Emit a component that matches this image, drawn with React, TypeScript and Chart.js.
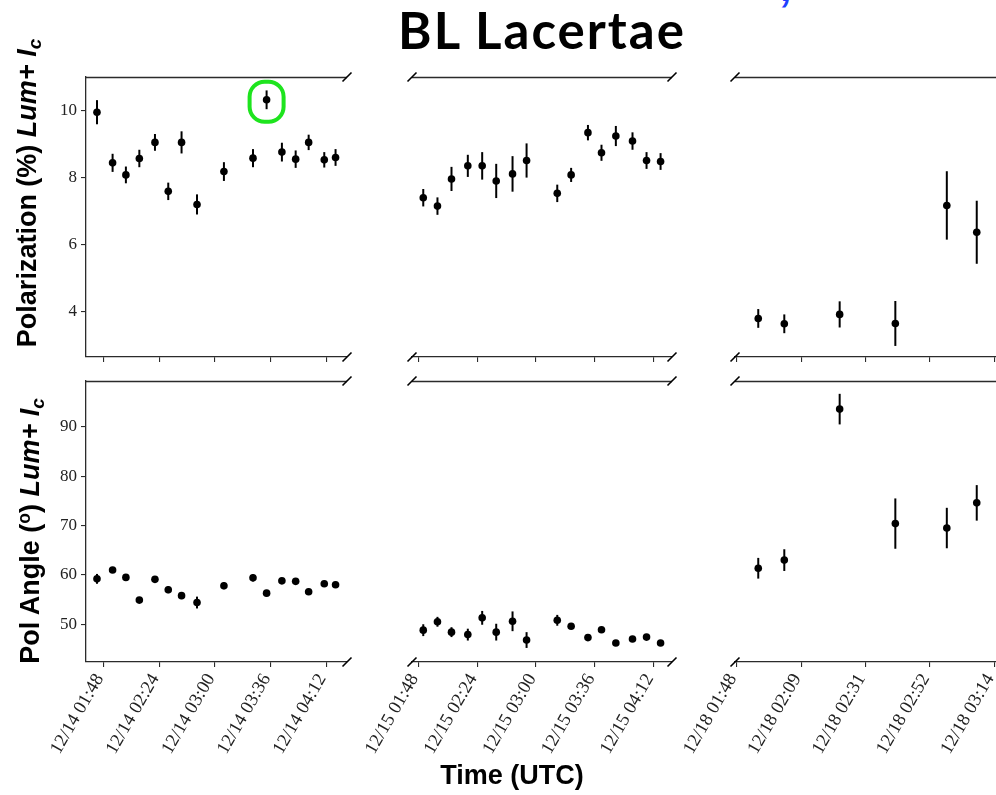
import React, { useEffect, useRef } from 'react';
import { Chart, registerables } from 'chart.js';

Chart.register(...registerables);

// Observation times, minutes after 00:00 UTC
const dec14Times = [103.7, 113.8, 122.4, 131.1, 141.2, 149.8, 158.4, 168.4, 185.8, 204.6, 213.4, 223.3, 232.2, 240.6, 250.7, 258.0];
const dec15Times = [110.9, 119.6, 128.2, 138.2, 147.0, 155.6, 165.6, 174.2, 193.0, 201.5, 211.8, 220.1, 228.9, 239.1, 247.7, 256.3];
const dec18Times = [115.2, 123.9, 142.4, 161.0, 178.2, 188.2];

// Polarization (%)
const dec14Pol = [9.95, 8.44, 8.08, 8.57, 9.05, 7.59, 9.05, 7.2, 8.18, 8.58, 10.32, 8.76, 8.55, 9.05, 8.53, 8.6];
const dec14PolErr = [0.36, 0.27, 0.25, 0.26, 0.25, 0.26, 0.33, 0.3, 0.28, 0.27, 0.28, 0.28, 0.26, 0.23, 0.23, 0.25];
const dec15Pol = [7.4, 7.15, 7.96, 8.35, 8.35, 7.9, 8.11, 8.51, 7.53, 8.08, 9.34, 8.74, 9.24, 9.09, 8.51, 8.48];
const dec15PolErr = [0.26, 0.26, 0.36, 0.33, 0.41, 0.51, 0.53, 0.51, 0.26, 0.21, 0.23, 0.24, 0.3, 0.26, 0.25, 0.25];
const dec18Pol = [3.8, 3.64, 3.92, 3.65, 7.17, 6.37];
const dec18PolErr = [0.28, 0.28, 0.39, 0.67, 1.02, 0.94];

// Polarization angle (deg)
const dec14Ang = [59.2, 61.0, 59.5, 54.9, 59.1, 57.0, 55.8, 54.4, 57.8, 59.4, 56.3, 58.8, 58.7, 56.6, 58.2, 58.0];
const dec14AngErr = [1.0, 0.6, 0.6, 0.6, 0.6, 0.7, 0.7, 1.2, 0.7, 0.7, 0.6, 0.6, 0.6, 0.6, 0.6, 0.6];
const dec15Ang = [48.8, 50.5, 48.4, 47.9, 51.3, 48.4, 50.6, 46.8, 50.8, 49.6, 47.3, 48.9, 46.2, 47.0, 47.4, 46.2];
const dec15AngErr = [1.2, 1.0, 1.0, 1.2, 1.4, 1.7, 2.0, 1.6, 1.1, 0.5, 0.5, 0.5, 0.5, 0.5, 0.5, 0.5];
const dec18Ang = [61.35, 63.0, 93.6, 70.4, 69.5, 74.6];
const dec18AngErr = [2.1, 2.2, 3.1, 5.1, 4.1, 3.6];

// Tick positions (minutes) and labels
const dec14TickValues = [108, 144, 180, 216, 252];
const dec14TickLabels = ['12/14 01:48', '12/14 02:24', '12/14 03:00', '12/14 03:36', '12/14 04:12'];
const dec15TickValues = [108, 144, 180, 216, 252];
const dec15TickLabels = ['12/15 01:48', '12/15 02:24', '12/15 03:00', '12/15 03:36', '12/15 04:12'];
const dec18TickValues = [108, 129.5, 151, 172.5, 194];
const dec18TickLabels = ['12/18 01:48', '12/18 02:09', '12/18 02:31', '12/18 02:52', '12/18 03:14'];
const polTickValues = [4, 6, 8, 10];
const angTickValues = [50, 60, 70, 80, 90];

const highlightedDec14Index = 10;

const PAD = 12;
const PAD_LEFT = 72;
const Y_AXIS_W = 44;
const X_AXIS_LABEL_H = 108;
const X_AXIS_TICK_H = 6;
const SPINE = '#2b2b2b';

type PanelProps = {
  left: number; top: number; width: number; height: number;
  times: number[]; values: number[]; errs: number[];
  xMin: number; xMax: number; yMin: number; yMax: number;
  xTickValues: number[]; xTickLabels: string[]; showXLabels: boolean;
  yTickValues: number[]; showY: boolean;
  breakLeft: boolean; breakRight: boolean; rightSpine: boolean;
  highlight?: number;
};

function Panel(p: PanelProps) {
  const ref = useRef<HTMLCanvasElement>(null);
  const yW = p.showY ? Y_AXIS_W : 0;
  const xH = p.showXLabels ? X_AXIS_LABEL_H : X_AXIS_TICK_H;
  const cw = p.width + yW + PAD_LEFT + PAD;
  const ch = p.height + PAD + xH + 2;

  useEffect(() => {
    const canvas = ref.current!;
    const decor = {
      id: 'panelDecor',
      beforeDatasetsDraw(chart: any) {
        const { ctx } = chart;
        const xs = chart.scales.x;
        const ys = chart.scales.y;
        ctx.save();
        ctx.strokeStyle = '#000';
        ctx.lineWidth = 2;
        p.times.forEach((t, i) => {
          const x = xs.getPixelForValue(t);
          ctx.beginPath();
          ctx.moveTo(x, ys.getPixelForValue(p.values[i] - p.errs[i]));
          ctx.lineTo(x, ys.getPixelForValue(p.values[i] + p.errs[i]));
          ctx.stroke();
        });
        ctx.restore();
      },
      afterDraw(chart: any) {
        const { ctx, chartArea: a } = chart;
        ctx.save();
        ctx.strokeStyle = SPINE;
        ctx.lineWidth = 1.3;
        ctx.beginPath();
        ctx.moveTo(a.left, a.top + 0.5);
        ctx.lineTo(a.right, a.top + 0.5);
        ctx.stroke();
        if (p.rightSpine) {
          ctx.beginPath();
          ctx.moveTo(a.right, a.top);
          ctx.lineTo(a.right, a.bottom);
          ctx.stroke();
        }
        ctx.strokeStyle = '#000';
        ctx.lineWidth = 1.6;
        const d = 4.5;
        const mark = (x: number, y: number) => {
          ctx.beginPath();
          ctx.moveTo(x - d, y + d);
          ctx.lineTo(x + d, y - d);
          ctx.stroke();
        };
        if (p.breakLeft) { mark(a.left, a.top); mark(a.left, a.bottom); }
        if (p.breakRight) { mark(a.right, a.top); mark(a.right, a.bottom); }
        if (p.highlight !== undefined) {
          const x = chart.scales.x.getPixelForValue(p.times[p.highlight]);
          const y = chart.scales.y.getPixelForValue(p.values[p.highlight]) + 2;
          const w = 34, h = 40, r = 15;
          const x0 = x - w / 2, y0 = y - h / 2;
          ctx.strokeStyle = '#1ee41e';
          ctx.lineWidth = 4;
          ctx.beginPath();
          ctx.moveTo(x0 + r, y0);
          ctx.lineTo(x0 + w - r, y0);
          ctx.arcTo(x0 + w, y0, x0 + w, y0 + r, r);
          ctx.lineTo(x0 + w, y0 + h - r);
          ctx.arcTo(x0 + w, y0 + h, x0 + w - r, y0 + h, r);
          ctx.lineTo(x0 + r, y0 + h);
          ctx.arcTo(x0, y0 + h, x0, y0 + h - r, r);
          ctx.lineTo(x0, y0 + r);
          ctx.arcTo(x0, y0, x0 + r, y0, r);
          ctx.closePath();
          ctx.stroke();
        }
        ctx.restore();
      },
    };

    const chart = new Chart(canvas, {
      type: 'scatter',
      data: {
        datasets: [{
          data: p.times.map((t, i) => ({ x: t, y: p.values[i] })),
          pointRadius: 3.8,
          pointBackgroundColor: '#000',
          pointBorderWidth: 0,
          showLine: false,
        } as any],
      },
      options: {
        animation: false,
        responsive: false,
        maintainAspectRatio: false,
        events: [],
        layout: { padding: { left: PAD_LEFT, right: PAD, top: PAD, bottom: 2 } },
        plugins: { legend: { display: false }, tooltip: { enabled: false } },
        scales: {
          x: {
            type: 'linear',
            min: p.xMin,
            max: p.xMax,
            afterBuildTicks: (s: any) => { s.ticks = p.xTickValues.map((v) => ({ value: v })); },
            afterFit: (s: any) => { s.height = xH; s.paddingLeft = 0; s.paddingRight = 0; },
            grid: { display: true, drawOnChartArea: false, drawTicks: true, tickLength: 5, color: SPINE, tickColor: SPINE, lineWidth: 1.1 },
            border: { display: true, color: SPINE, width: 1.3 },
            ticks: {
              display: p.showXLabels,
              autoSkip: false,
              minRotation: 60,
              maxRotation: 60,
              padding: 3,
              labelOffset: -4,
              color: '#222',
              font: { family: '"Liberation Serif", serif', size: 18.5 },
              callback: (_v: any, i: number) => p.xTickLabels[i],
            },
          },
          y: {
            type: 'linear',
            display: p.showY,
            min: p.yMin,
            max: p.yMax,
            afterBuildTicks: (s: any) => { s.ticks = p.yTickValues.map((v) => ({ value: v })); },
            afterFit: (s: any) => { s.width = yW; s.paddingTop = 0; s.paddingBottom = 0; },
            grid: { display: true, drawOnChartArea: false, drawTicks: true, tickLength: 5, color: SPINE, tickColor: SPINE, lineWidth: 1.1 },
            border: { display: true, color: SPINE, width: 1.3 },
            ticks: {
              padding: 4,
              color: '#222',
              font: { family: '"Liberation Serif", serif', size: 17 },
              callback: (v: any) => String(v),
            },
          },
        },
      } as any,
      plugins: [decor],
    });
    return () => chart.destroy();
  }, []);

  return (
    <canvas
      ref={ref}
      width={cw}
      height={ch}
      style={{ position: 'absolute', left: p.left - PAD_LEFT - yW, top: p.top - PAD, width: cw, height: ch }}
    />
  );
}

const cols = [
  { left: 86, width: 261, xMin: 96.6, xMax: 265.4 },
  { left: 412, width: 260, xMin: 104.0, xMax: 263.3 },
  { left: 735, width: 265, xMin: 107.43, xMax: 195.97 },
];
const rows = [
  { top: 77, height: 280, yMin: 2.65, yMax: 11.0 },
  { top: 381, height: 281, yMin: 42.35, yMax: 99.3 },
];

export default function App() {
  const days = [
    { times: dec14Times, pol: dec14Pol, polErr: dec14PolErr, ang: dec14Ang, angErr: dec14AngErr, tv: dec14TickValues, tl: dec14TickLabels },
    { times: dec15Times, pol: dec15Pol, polErr: dec15PolErr, ang: dec15Ang, angErr: dec15AngErr, tv: dec15TickValues, tl: dec15TickLabels },
    { times: dec18Times, pol: dec18Pol, polErr: dec18PolErr, ang: dec18Ang, angErr: dec18AngErr, tv: dec18TickValues, tl: dec18TickLabels },
  ];
  const panels: React.ReactNode[] = [];
  rows.forEach((r, ri) => {
    cols.forEach((c, ci) => {
      const d = days[ci];
      panels.push(
        <Panel
          key={`${ri}-${ci}`}
          left={c.left} top={r.top} width={c.width} height={r.height}
          times={d.times}
          values={ri === 0 ? d.pol : d.ang}
          errs={ri === 0 ? d.polErr : d.angErr}
          xMin={c.xMin} xMax={c.xMax} yMin={r.yMin} yMax={r.yMax}
          xTickValues={d.tv} xTickLabels={d.tl} showXLabels={ri === 1}
          yTickValues={ri === 0 ? polTickValues : angTickValues} showY={ci === 0}
          breakLeft={ci > 0} breakRight={ci < 2} rightSpine={ci === 2}
          highlight={ri === 0 && ci === 0 ? highlightedDec14Index : undefined}
        />
      );
    });
  });

  const sans = '"Liberation Sans", Arial, sans-serif';
  return (
    <div style={{ position: 'fixed', left: 0, top: 0, width: 996, height: 795, overflow: 'hidden', background: '#fff' }}>
      {panels}
      <div style={{ position: 'absolute', left: 542, top: 4, transform: 'translateX(-50%)', whiteSpace: 'nowrap', font: '700 51px Lato, sans-serif', lineHeight: '51px', letterSpacing: '2px', color: '#000' }}>
        BL Lacertae
      </div>
      <div style={{ position: 'absolute', left: 782, top: -33, font: 'italic 700 40px ' + sans, lineHeight: '40px', color: '#1f3fff' }}>,</div>
      <div style={{ position: 'absolute', left: 31, top: 193, transform: 'translate(-50%,-50%) rotate(-90deg)', whiteSpace: 'nowrap', font: '700 27px ' + sans, lineHeight: '30px', color: '#000' }}>
        Polarization (%) <i>Lum+ I<sub style={{ fontSize: '0.7em', verticalAlign: '-0.25em' }}>c</sub></i>
      </div>
      <div style={{ position: 'absolute', left: 31, top: 531, transform: 'translate(-50%,-50%) rotate(-90deg)', whiteSpace: 'nowrap', font: '700 27px ' + sans, lineHeight: '30px', color: '#000' }}>
        Pol Angle (<sup style={{ fontSize: '0.65em', verticalAlign: '0.5em' }}>o</sup>) <i>Lum+ I<sub style={{ fontSize: '0.7em', verticalAlign: '-0.25em' }}>c</sub></i>
      </div>
      <div style={{ position: 'absolute', left: 512, top: 762, transform: 'translateX(-50%)', whiteSpace: 'nowrap', font: '700 27px ' + sans, lineHeight: '27px', color: '#000' }}>
        Time (UTC)
      </div>
    </div>
  );
}
